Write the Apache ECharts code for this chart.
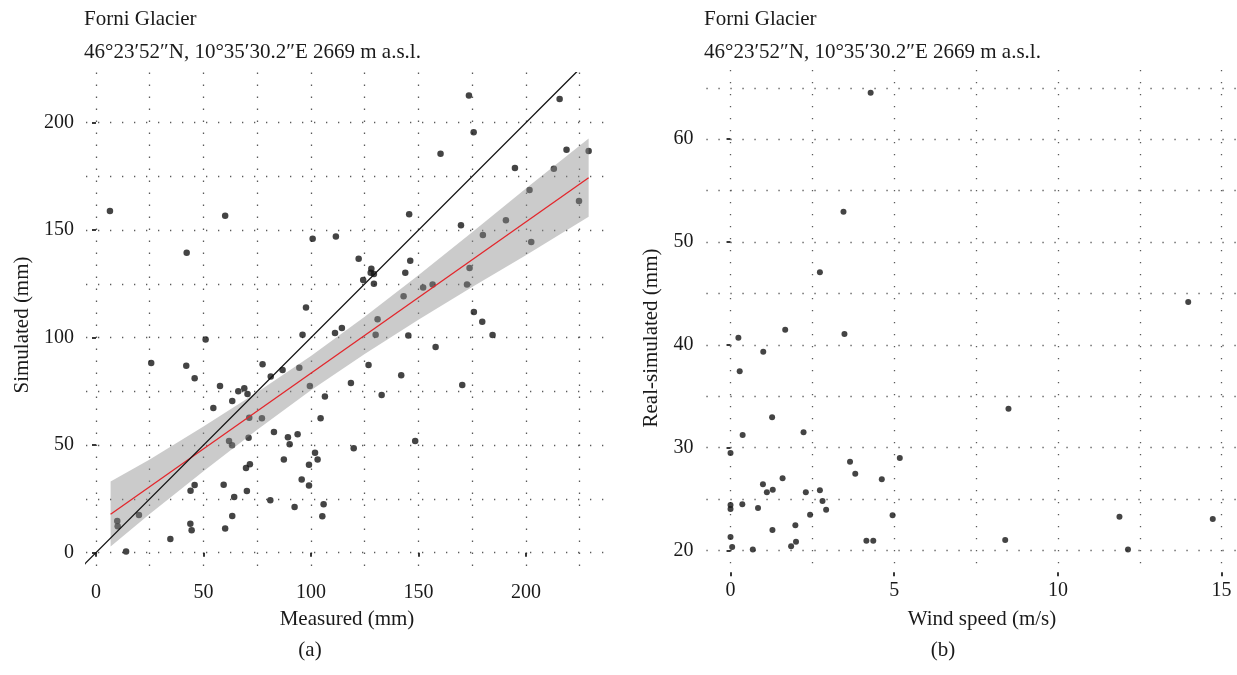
<!DOCTYPE html>
<html>
<head>
<meta charset="utf-8">
<script src="https://cdn.jsdelivr.net/npm/echarts@6/dist/echarts.min.js"></script>
<style>
  html, body { margin: 0; padding: 0; background: #fff; }
  #main { width: 1237px; height: 675px; }
</style>
</head>
<body>
<div id="main"></div>
<script>
// (a) measured vs simulated (mm)
var measuredX = [6.5, 60.1, 42.2, 51.0, 100.8, 111.6, 122.2, 128.1, 127.8, 129.3, 124.3, 129.3, 97.7, 96.1, 111.2,
  114.4, 131.0, 130.1, 173.5, 215.7, 175.7, 160.3, 218.9, 229.2, 194.9, 213.0, 201.7, 224.7, 145.7, 169.8,
  190.7, 180.0, 202.5, 146.2, 143.9, 173.8, 143.1, 152.2, 156.6, 172.6, 175.8, 179.7, 145.3, 184.5, 158.0,
  94.6, 99.5, 118.6, 126.8, 142.0, 170.4, 132.9, 106.5, 104.5, 148.5, 119.9, 101.9, 103.1, 99.1, 95.7,
  99.1, 105.9, 105.3, 25.7, 42.0, 45.9, 77.5, 81.3, 86.8, 57.7, 66.2, 69.0, 70.5, 63.4, 54.6,
  71.3, 77.2, 71.0, 82.8, 89.3, 93.8, 90.1, 61.9, 63.3, 87.4, 71.6, 69.8, 59.4, 45.9, 44.0,
  70.2, 64.3, 81.1, 92.4, 63.4, 60.1, 43.9, 44.5, 34.6, 14.0, 9.9, 10.1, 20.0];
var simulatedY = [158.9, 156.7, 139.5, 99.2, 146.0, 147.1, 136.7, 132.1, 130.2, 129.6, 126.8, 125.1, 114.1, 101.4, 102.2,
  104.5, 108.6, 101.4, 212.7, 211.0, 195.5, 185.6, 187.4, 186.8, 178.9, 178.6, 168.7, 163.6, 157.4, 152.3,
  154.6, 147.8, 144.5, 135.8, 130.2, 132.4, 119.3, 123.3, 124.8, 124.8, 112.0, 107.4, 101.0, 101.3, 95.7,
  86.0, 77.5, 78.9, 87.3, 82.5, 78.0, 73.3, 72.6, 62.5, 52.0, 48.6, 46.5, 43.3, 40.9, 34.0,
  31.3, 22.5, 16.9, 88.2, 87.0, 81.1, 87.6, 82.0, 85.0, 77.5, 75.1, 76.5, 73.8, 70.6, 67.3,
  62.8, 62.5, 53.5, 56.1, 53.7, 55.1, 50.4, 52.0, 50.0, 43.3, 41.1, 39.4, 31.6, 31.5, 28.8,
  28.7, 25.9, 24.4, 21.3, 17.1, 11.2, 13.5, 10.4, 6.4, 0.6, 14.7, 12.3, 17.5];

// fitted line and its confidence band
var fitX = [6.8, 229.2];
var fitY = [17.9, 174.4];
var bandX = [6.8, 25, 50, 75, 100, 125, 150, 175, 200, 229.2];
var bandLow = [2.9, 18.0, 37.9, 57.2, 75.5, 92.4, 108.3, 123.6, 138.4, 156.3];
var bandHigh = [33.1, 43.4, 58.7, 74.6, 91.5, 109.8, 129.1, 149.0, 169.4, 192.6];
var identityLine = [-20, 260];

// (b) wind speed vs real-simulated
var windX = [4.28, 3.45, 2.73, 1.67, 0.24, 3.48, 1.0, 0.28, 1.27, 0.37, 2.23, 0.0, 5.17, 3.65, 3.81,
  4.62, 1.59, 0.99, 1.11, 1.29, 2.3, 2.73, 2.81, 2.92, 2.43, 4.95, 0.0, 0.0, 0.36, 0.84,
  1.98, 1.28, 0.0, 0.05, 0.68, 2.0, 1.85, 4.15, 4.36, 8.49, 8.39, 11.88, 12.14, 14.73, 13.98];
var realSimY = [64.52, 52.95, 47.05, 41.47, 40.69, 41.05, 39.33, 37.42, 32.95, 31.23, 31.49, 29.47, 28.99, 28.63, 27.46,
  26.92, 27.01, 26.43, 25.65, 25.9, 25.65, 25.85, 24.81, 23.96, 23.47, 23.41, 24.42, 24.03, 24.48, 24.12,
  22.44, 21.98, 21.3, 20.33, 20.1, 20.85, 20.4, 20.94, 20.94, 33.78, 21.01, 23.28, 20.1, 23.05, 44.16];

// tick labels and grid positions
var ticksAX = [0, 50, 100, 150, 200];
var ticksAY = [0, 50, 100, 150, 200];
var gridAX = [0, 25, 50, 75, 100, 125, 150, 175, 200, 225];
var gridAY = [0, 25, 50, 75, 100, 125, 150, 175, 200];
var ticksBX = [0, 5, 10, 15];
var ticksBY = [20, 30, 40, 50, 60];
var gridBX = [0, 2.5, 5, 7.5, 10, 12.5, 15];
var gridBY = [20, 25, 30, 35, 40, 45, 50, 55, 60, 65];

var FONT = '"Liberation Serif", "DejaVu Serif", serif';
var chart = echarts.init(document.getElementById('main'), null, { renderer: 'canvas' });

function toPairs(xs, ys) {
  return xs.map(function (x, i) { return [x, ys[i]]; });
}

var dotted = {
  show: true,
  lineStyle: { color: '#5a5a5a', width: 1.3, type: [1.3, 10.7] }
};

function labelAxis(grid, min, max, ticks, isY, margin) {
  return {
    type: 'value', gridIndex: grid, min: min, max: max,
    position: isY ? 'left' : 'bottom',
    axisLine: { show: false },
    axisTick: { show: true, length: 4, customValues: ticks, lineStyle: { color: '#222', width: 1.8 } },
    axisLabel: { show: true, customValues: ticks, margin: margin, fontFamily: FONT, fontSize: 20, color: '#1a1a1a' },
    splitLine: { show: false }
  };
}
function lineAxis(grid, min, max, lines, isY) {
  return {
    type: 'value', gridIndex: grid, min: min, max: max,
    position: isY ? 'left' : 'bottom',
    axisLine: { show: false },
    axisTick: { show: false, customValues: lines },
    axisLabel: { show: false, customValues: lines },
    splitLine: dotted
  };
}

function label(text, x, y, rotate) {
  return {
    type: 'text', x: x, y: y, rotation: rotate ? Math.PI / 2 : 0,
    style: { text: text, font: '21px ' + FONT, fill: '#1a1a1a', align: 'center', verticalAlign: 'middle' }
  };
}
function title(text, x, y) {
  return { type: 'text', left: x, top: y, style: { text: text, font: '21px ' + FONT, fill: '#1a1a1a' } };
}

var option = {
  backgroundColor: '#fff',
  animation: false,
  grid: [
    { left: 86, top: 72.6, width: 526.6, height: 501.6 },
    { left: 706.4, top: 69.9, width: 534.8, height: 502.3 }
  ],
  xAxis: [
    labelAxis(0, -4.64, 240.34, ticksAX, false, 9),
    lineAxis(0, -4.64, 240.34, gridAX, false),
    labelAxis(1, -0.737, 15.47, ticksBX, false, 9),
    lineAxis(1, -0.737, 15.47, gridBX, false)
  ],
  yAxis: [
    labelAxis(0, -10.0, 223.3, ticksAY, true, 12),
    lineAxis(0, -10.0, 223.3, gridAY, true),
    labelAxis(1, 17.88, 66.74, ticksBY, true, 13),
    lineAxis(1, 17.88, 66.74, gridBY, true)
  ],
  series: [
    {
      name: 'points a', type: 'scatter', xAxisIndex: 0, yAxisIndex: 0, z: 2,
      symbolSize: 6.5, itemStyle: { color: '#151515' },
      data: toPairs(measuredX, simulatedY)
    },
    {
      name: 'band', type: 'custom', xAxisIndex: 0, yAxisIndex: 0, z: 3, silent: true,
      data: toPairs(bandX, bandLow),
      renderItem: function (params, api) {
        if (params.dataIndex !== 0) return null;
        var pts = [];
        for (var i = 0; i < bandX.length; i++) pts.push(api.coord([bandX[i], bandHigh[i]]));
        for (var j = bandX.length - 1; j >= 0; j--) pts.push(api.coord([bandX[j], bandLow[j]]));
        return { type: 'polygon', shape: { points: pts }, style: { fill: 'rgba(140,140,140,0.45)' } };
      }
    },
    {
      name: 'fit', type: 'line', xAxisIndex: 0, yAxisIndex: 0, z: 4, symbol: 'none',
      lineStyle: { color: '#e3262b', width: 1.3 },
      data: toPairs(fitX, fitY)
    },
    {
      name: '1:1', type: 'line', xAxisIndex: 0, yAxisIndex: 0, z: 5, symbol: 'none', clip: true,
      lineStyle: { color: '#111', width: 1.3 },
      data: toPairs(identityLine, identityLine)
    },
    {
      name: 'points b', type: 'scatter', xAxisIndex: 2, yAxisIndex: 2, z: 2,
      symbolSize: 6, itemStyle: { color: '#151515' },
      data: toPairs(windX, realSimY)
    }
  ],
  graphic: [
    title('Forni Glacier', 84, 9),
    title('46°23′52″N, 10°35′30.2″E 2669 m a.s.l.', 84, 42),
    title('Forni Glacier', 704, 9),
    title('46°23′52″N, 10°35′30.2″E 2669 m a.s.l.', 704, 42),
    label('Measured (mm)', 347, 619),
    label('(a)', 310, 650),
    label('Wind speed (m/s)', 982, 619),
    label('(b)', 943, 650),
    label('Simulated (mm)', 22, 325, true),
    label('Real-simulated (mm)', 651, 338, true)
  ]
};
chart.setOption(option);
</script>
</body>
</html>
